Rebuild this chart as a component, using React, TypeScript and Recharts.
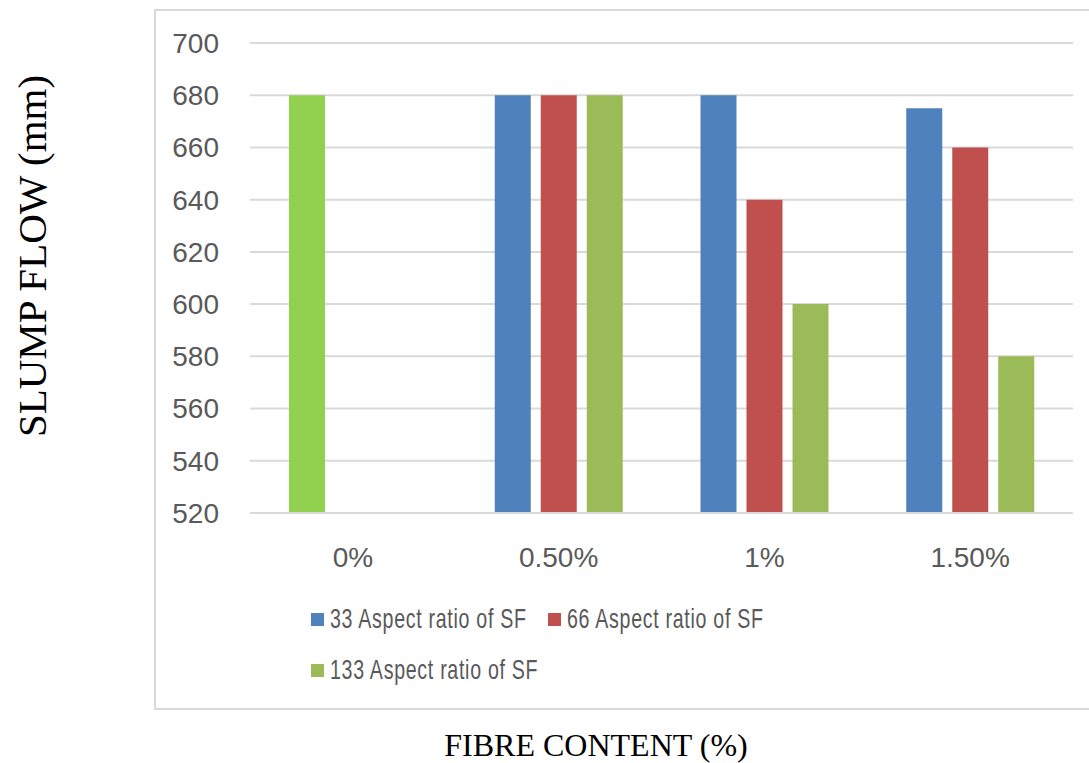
import React from 'react';
import { BarChart, Bar, XAxis, YAxis, CartesianGrid, Cell } from 'recharts';

const categories = ['0%', '0.50%', '1%', '1.50%'];
const ar33 = [680, 680, 680, 675];
const ar66 = [null, 680, 640, 660];
const ar133 = [null, 680, 600, 580];
const yTicks = [520, 540, 560, 580, 600, 620, 640, 660, 680, 700];

const series = [
    { key: 'ar33', name: '33 Aspect ratio of SF', color: '#4F81BD' },
    { key: 'ar66', name: '66 Aspect ratio of SF', color: '#C0504D' },
    { key: 'ar133', name: '133 Aspect ratio of SF', color: '#9BBB59' },
];

const data = categories.map((c, i) => ({ cat: c, ar33: ar33[i], ar66: ar66[i], ar133: ar133[i] }));

const tickStyle = { fontFamily: '"Liberation Sans", Arial, sans-serif', fontSize: 28, fill: '#595959' };

function LegendBox() {
    return (
        <div
            style={{
                position: 'absolute',
                left: 311,
                top: 604,
                width: 480,
                display: 'flex',
                flexWrap: 'wrap',
                rowGap: 21,
                fontFamily: '"Liberation Sans", Arial, sans-serif',
                fontSize: 28,
                letterSpacing: 1,
                color: '#595959',
                lineHeight: '30px',
            }}
        >
            {series.map((s) => (
                <div key={s.key} style={{ display: 'flex', alignItems: 'center', width: 237, height: 30 }}>
                    <span style={{ width: 13, height: 13, background: s.color, marginRight: 6, flex: 'none' }} />
                    <span style={{ display: 'inline-block', whiteSpace: 'nowrap', transform: 'scaleX(0.7)', transformOrigin: 'left center' }}>
                        {s.name}
                    </span>
                </div>
            ))}
        </div>
    );
}

export default function App() {
    return (
        <div style={{ position: 'absolute', left: 0, top: 0, width: 1089, height: 763, background: '#fff', overflow: 'hidden' }}>
            <div
                style={{
                    position: 'absolute',
                    left: 154,
                    top: 9,
                    width: 960,
                    height: 701,
                    border: '2px solid #D9D9D9',
                    boxSizing: 'border-box',
                }}
            />
            <BarChart
                width={1089}
                height={763}
                data={data}
                margin={{ top: 43, right: 16, bottom: 190, left: 170 }}
                barSize={36}
                barGap={10}
                style={{ position: 'absolute', left: 0, top: 0 }}
            >
                <CartesianGrid vertical={false} stroke="#D9D9D9" strokeWidth={2} />
                <XAxis
                    dataKey="cat"
                    axisLine={{ stroke: '#D9D9D9', strokeWidth: 2 }}
                    tickLine={false}
                    tickSize={0}
                    tickMargin={34}
                    tick={tickStyle}
                    height={60}
                />
                <YAxis
                    domain={[520, 700]}
                    ticks={yTicks}
                    interval={0}
                    axisLine={false}
                    tickLine={false}
                    tickSize={0}
                    tickMargin={31}
                    tick={tickStyle}
                    width={80}
                />
                {series.map((s) => (
                    <Bar key={s.key} dataKey={s.key} name={s.name} fill={s.color} isAnimationActive={false}>
                        {s.key === 'ar33' &&
                            data.map((d, i) => <Cell key={i} fill={i === 0 ? '#92D050' : s.color} />)}
                    </Bar>
                ))}
            </BarChart>
            <LegendBox />
            <div
                style={{
                    position: 'absolute',
                    left: 32,
                    top: 256,
                    transform: 'translate(-50%, -50%) rotate(-90deg)',
                    whiteSpace: 'nowrap',
                    fontFamily: '"Liberation Serif", "Times New Roman", serif',
                    fontSize: 41,
                    lineHeight: '44px',
                    color: '#000',
                }}
            >
                SLUMP FLOW (mm)
            </div>
            <div
                style={{
                    position: 'absolute',
                    left: 596,
                    top: 729,
                    transform: 'translateX(-50%)',
                    whiteSpace: 'nowrap',
                    fontFamily: '"Liberation Serif", "Times New Roman", serif',
                    fontSize: 32,
                    lineHeight: '32px',
                    color: '#000',
                }}
            >
                FIBRE CONTENT (%)
            </div>
        </div>
    );
}
